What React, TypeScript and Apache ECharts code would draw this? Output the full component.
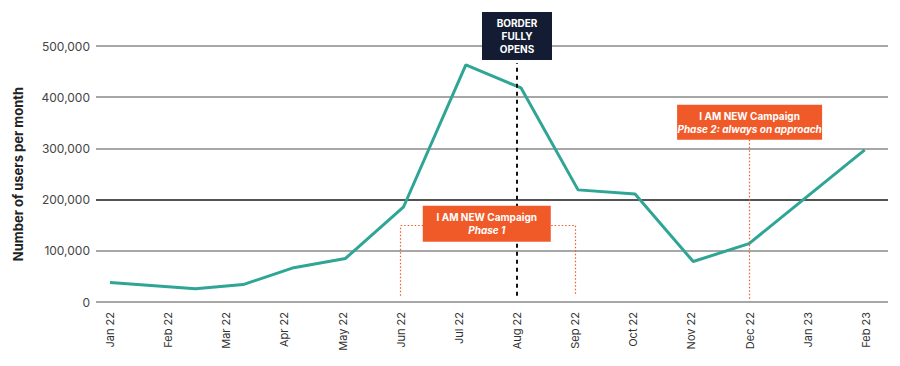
import React, { useEffect, useRef } from "react";
import * as echarts from "echarts";

const months = ["Jan 22", "Feb 22", "Mar 22", "Apr 22", "May 22", "Jun 22", "Jul 22", "Aug 22", "Sep 22", "Oct 22", "Nov 22", "Dec 22", "Jan 23", "Feb 23"];
const monthTicks = [0, 1, 2, 3, 4, 5, 6, 7, 8, 9, 10, 11, 12, 13];
// positions of the line's vertices along the month axis (as drawn in the source)
const monthPos = [0, 1.47, 2.29, 3.16, 4.05, 5.05, 6.12, 7.07, 8.05, 9.03, 10.03, 10.99, 12.98];
const users = [38000, 26000, 34000, 67000, 85000, 186000, 463000, 418000, 219000, 211000, 79000, 114000, 297000];
const yTicks = [0, 100000, 200000, 300000, 400000, 500000];

const borderMonth = 7;
const phase1Start = 5;
const phase1End = 8;
const phase2Month = 11;

export default function App() {
  const ref = useRef<HTMLDivElement>(null);
  useEffect(() => {
    if (!ref.current) return;
    const chart = echarts.init(ref.current, null, { renderer: "svg" });
    const orange = "#f05a28";
    const font = "Inter, 'Open Sans', sans-serif";
    const dotted = { color: orange, width: 1.2, type: [1.5, 2] };
    chart.setOption({
      animation: false,
      backgroundColor: "#ffffff",
      textStyle: { fontFamily: font },
      grid: { left: 96, right: 12, top: 46, bottom: 64, containLabel: false },
      xAxis: {
        type: "value",
        min: -0.24,
        max: 13.38,
        axisLine: { show: false },
        axisTick: { show: false },
        splitLine: { show: false },
        axisLabel: {
          customValues: monthTicks,
          rotate: 90,
          margin: 10,
          color: "#333",
          fontSize: 11,
          fontFamily: font,
          formatter: (v: number) => months[Math.round(v)] ?? "",
        },
      },
      yAxis: {
        type: "value",
        min: yTicks[0],
        max: yTicks[yTicks.length - 1],
        interval: 100000,
        name: "Number of users per month",
        nameLocation: "middle",
        nameRotate: 90,
        nameGap: 72,
        nameTextStyle: { fontSize: 13, fontWeight: "bold", color: "#222", fontFamily: font },
        axisLine: { show: false },
        axisTick: { show: false },
        axisLabel: {
          margin: 6,
          color: "#444",
          fontSize: 12,
          fontFamily: font,
          formatter: (v: number) => v.toLocaleString("en-US"),
        },
        splitLine: {
          lineStyle: {
            color: ["#8a8a8a", "#8a8a8a", "#1a1a1a", "#8a8a8a", "#8a8a8a", "#8a8a8a"],
            width: 1.5,
          },
        },
      },
      series: [
        {
          type: "line",
          data: monthPos.map((m, i) => [m, users[i]]),
          symbol: "none",
          lineStyle: { color: "#2ea595", width: 3 },
          z: 3,
        },
        {
          type: "line",
          data: [],
          z: 2,
          markLine: {
            silent: true,
            symbol: ["none", "none"],
            label: { show: false },
            data: [
              [
                { coord: [borderMonth, 12000], lineStyle: { color: "#111", width: 2, type: [4, 4] } },
                { coord: [borderMonth, 467000] },
              ],
              [{ coord: [phase1Start, 12000], lineStyle: dotted }, { coord: [phase1Start, 149000] }],
              [{ coord: [phase1Start, 149000], lineStyle: dotted }, { coord: [phase1End, 149000] }],
              [{ coord: [phase1End, 149000], lineStyle: dotted }, { coord: [phase1End, 12000] }],
              [{ coord: [phase2Month, 317000], lineStyle: dotted }, { coord: [phase2Month, 6000] }],
            ],
          },
          markPoint: {
            silent: true,
            data: [
              {
                coord: [borderMonth, 500000],
                symbol: "rect",
                symbolSize: [70, 48],
                symbolOffset: [0, -10],
                itemStyle: { color: "#131c32" },
                label: {
                  show: true,
                  position: "inside",
                  formatter: "BORDER\nFULLY\nOPENS",
                  color: "#fff",
                  fontWeight: "bold",
                  fontSize: 10,
                  lineHeight: 13,
                  align: "center",
                  fontFamily: font,
                },
              },
              {
                coord: [6.48, 153000],
                symbol: "rect",
                symbolSize: [128, 36],
                itemStyle: { color: orange },
                label: {
                  show: true,
                  position: "inside",
                  formatter: "{a|I AM NEW Campaign}\n{b|Phase 1}",
                  align: "center",
                  rich: {
                    a: { color: "#fff", fontWeight: "bold", fontSize: 10, lineHeight: 13, fontFamily: font, align: "center" },
                    b: { color: "#fff", fontWeight: "bold", fontStyle: "italic", fontSize: 10, lineHeight: 13, fontFamily: font, align: "center" },
                  },
                },
              },
              {
                coord: [phase2Month, 351000],
                symbol: "rect",
                symbolSize: [145, 35],
                itemStyle: { color: orange },
                label: {
                  show: true,
                  position: "inside",
                  formatter: "{a|I AM NEW Campaign}\n{b|Phase 2: always on approach}",
                  align: "center",
                  rich: {
                    a: { color: "#fff", fontWeight: "bold", fontSize: 10, lineHeight: 13, fontFamily: font, align: "center" },
                    b: { color: "#fff", fontWeight: "bold", fontStyle: "italic", fontSize: 10, lineHeight: 13, fontFamily: font, align: "center" },
                  },
                },
              },
            ],
          },
        },
      ],
    });
    return () => chart.dispose();
  }, []);
  return <div ref={ref} style={{ position: "fixed", left: 0, top: 0, width: 900, height: 366 }} />;
}
